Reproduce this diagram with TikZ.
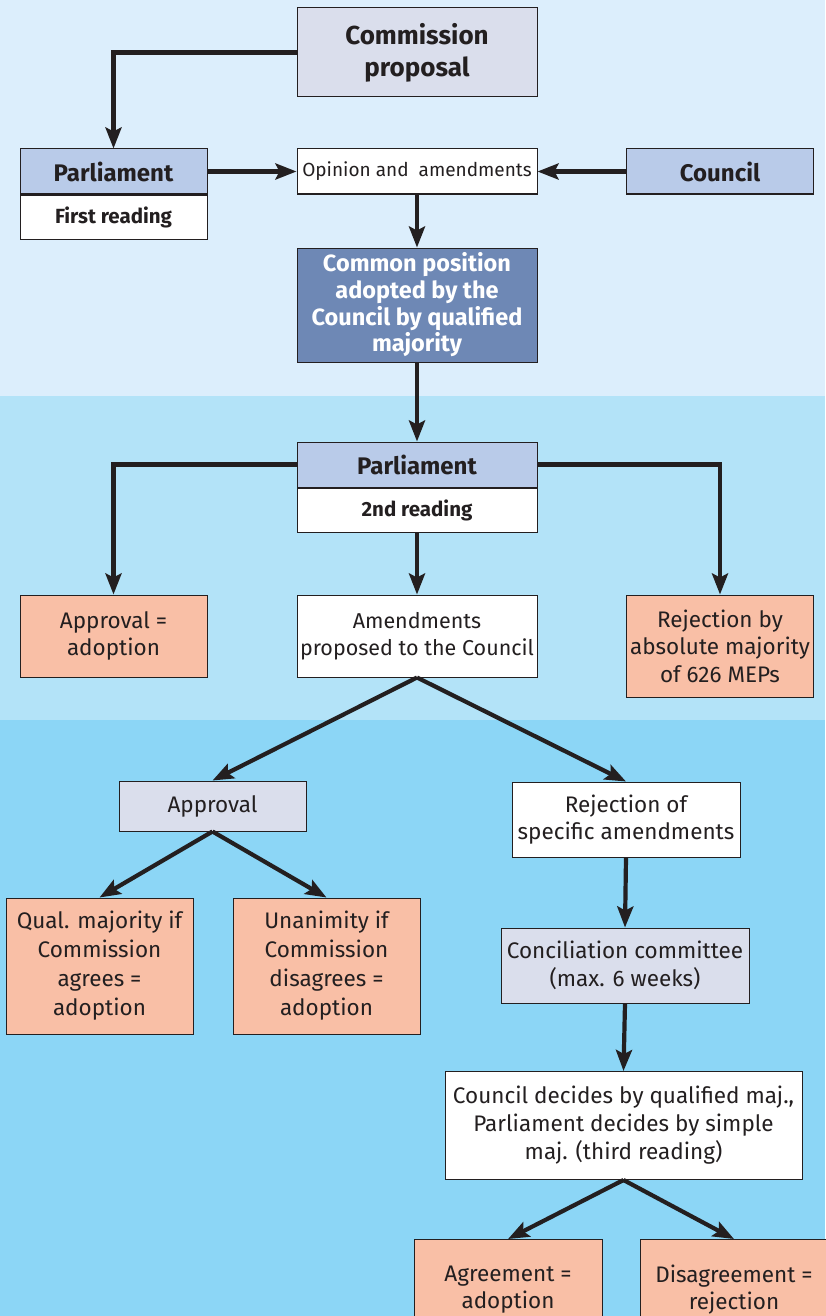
\documentclass[tikz,border=0pt]{standalone}
\usepackage{fontspec}
\setmainfont{Fira Sans}
\usetikzlibrary{arrows.meta,positioning}
\definecolor{bandone}{RGB}{220, 238, 252}
\definecolor{bandtwo}{RGB}{179, 227, 248}
\definecolor{bandthree}{RGB}{140, 214, 246}
\definecolor{headcolor}{RGB}{185, 203, 233}
\definecolor{greycolor}{RGB}{218, 222, 236}
\definecolor{darkcolor}{RGB}{110, 136, 181}
\definecolor{resultcolor}{RGB}{249, 191, 166}
\definecolor{linecolor}{RGB}{35, 31, 32}

\begin{document}
\begin{tikzpicture}[
        x=1pt, y=-1pt,
        box/.style={rectangle, draw=linecolor, line width=1pt, align=center, text=linecolor, inner sep=2pt, font=\fontsize{22.5}{27.5}\selectfont},
        head/.style={box, fill=headcolor, minimum width=187pt, minimum height=45pt, font=\fontsize{24}{28}\selectfont\bfseries},
        reading/.style={box, fill=white, minimum width=187pt, minimum height=44pt, font=\fontsize{20.5}{24}\selectfont\bfseries},
        result/.style={box, fill=resultcolor},
        stage/.style={box, fill=greycolor},
        arrow/.style={-{Stealth[length=21pt, width=16pt, inset=4pt]}, line width=4.2pt, draw=linecolor}
    ]
        \useasboundingbox (0,0) rectangle (825,1316);

        % Background bands
        \fill[bandone] (0,0) rectangle (825,396);
        \fill[bandtwo] (0,396) rectangle (825,720);
        \fill[bandthree] (0,720) rectangle (825,1316);

        % First reading
        \node[stage, minimum width=240pt, minimum height=89pt, font=\fontsize{26}{32}\selectfont\bfseries] (commission) at (417,52.5) {Commission\\proposal};
        \node[head] (parlFirst) at (113.5,171.5) {Parliament};
        \node[reading, below=0pt of parlFirst] (readFirst) {First reading};
        \node[box, fill=white, minimum width=240pt, minimum height=45pt, font=\fontsize{19}{22}\selectfont] (opinion) at (417,171.5) {Opinion and\ \ amendments};
        \node[head] (council) at (720,171.5) {Council};
        \node[box, fill=darkcolor, text=white, minimum width=240pt, minimum height=114pt, font=\fontsize{23.5}{26.7}\selectfont\bfseries] (common) at (417,305) {Common position\\adopted by the\\Council by qualified\\majority};

        \draw[arrow] (commission.west) -| (parlFirst.north);
        \draw[arrow] (parlFirst.east) -- (opinion.west);
        \draw[arrow] (council.west) -- (opinion.east);
        \draw[arrow] (opinion.south) -- (common.north);

        % Second reading
        \node[head, minimum width=240pt] (parlSecond) at (417,464.5) {Parliament};
        \node[reading, minimum width=240pt, below=0pt of parlSecond] (readSecond) {2nd reading};
        \node[result, minimum width=187pt, minimum height=82pt] (approvalAdopt) at (113.5,636) {Approval =\\adoption};
        \node[box, fill=white, minimum width=240pt, minimum height=82pt, inner sep=1pt, font=\fontsize{21.5}{27.5}\selectfont] (amendments) at (417,636) {Amendments\\proposed to the Council};
        \node[result, minimum width=187pt, minimum height=102pt] (rejectAbs) at (720,646) {Rejection by\\absolute majority\\of 626 MEPs};

        \draw[arrow] (common.south) -- (parlSecond.north);
        \draw[arrow] (parlSecond.west) -| (approvalAdopt.north);
        \draw[arrow] (parlSecond.east) -| (rejectAbs.north);
        \draw[arrow] (readSecond.south) -- (amendments.north);

        % Council on the amendments
        \node[stage, minimum width=187pt, minimum height=50pt] (approval) at (212.5,806) {Approval};
        \node[box, fill=white, minimum width=228pt, minimum height=75pt] (rejectSpec) at (626,819.5) {Rejection of\\specific amendments};
        \node[result, minimum width=187pt, minimum height=136pt, font=\fontsize{22.5}{29}\selectfont] (qualMaj) at (99.5,966) {Qual. majority if\\Commission\\agrees =\\adoption};
        \node[result, minimum width=187pt, minimum height=136pt, font=\fontsize{22.5}{29}\selectfont] (unanimity) at (326.5,966) {Unanimity if\\Commission\\disagrees =\\adoption};
        \node[stage, minimum width=248pt, minimum height=75pt] (conciliation) at (625,965.5) {Conciliation committee\\(max. 6 weeks)};

        \draw[arrow] (amendments.south) -- (approval.north);
        \draw[arrow] (amendments.south) -- (rejectSpec.north);
        \draw[arrow] (approval.south) -- (qualMaj.north);
        \draw[arrow] (approval.south) -- (unanimity.north);
        \draw[arrow] (rejectSpec.south) -- (conciliation.north);

        % Third reading
        \node[box, fill=white, minimum width=357pt, minimum height=108pt, font=\fontsize{22.5}{28}\selectfont] (thirdReading) at (623.5,1125.5) {Council decides by qualified maj.,\\Parliament decides by simple\\maj. (third reading)};
        \node[result, minimum width=188pt, minimum height=100pt, anchor=north] (agreement) at (508,1239) {Agreement =\\adoption};
        \node[result, minimum width=188pt, minimum height=100pt, anchor=north] (disagreement) at (734,1239) {Disagreement =\\rejection};

        \draw[arrow] (conciliation.south) -- (thirdReading.north);
        \draw[arrow] (thirdReading.south) -- (agreement.north);
        \draw[arrow] (thirdReading.south) -- (disagreement.north);

    \end{tikzpicture}
\end{document}
